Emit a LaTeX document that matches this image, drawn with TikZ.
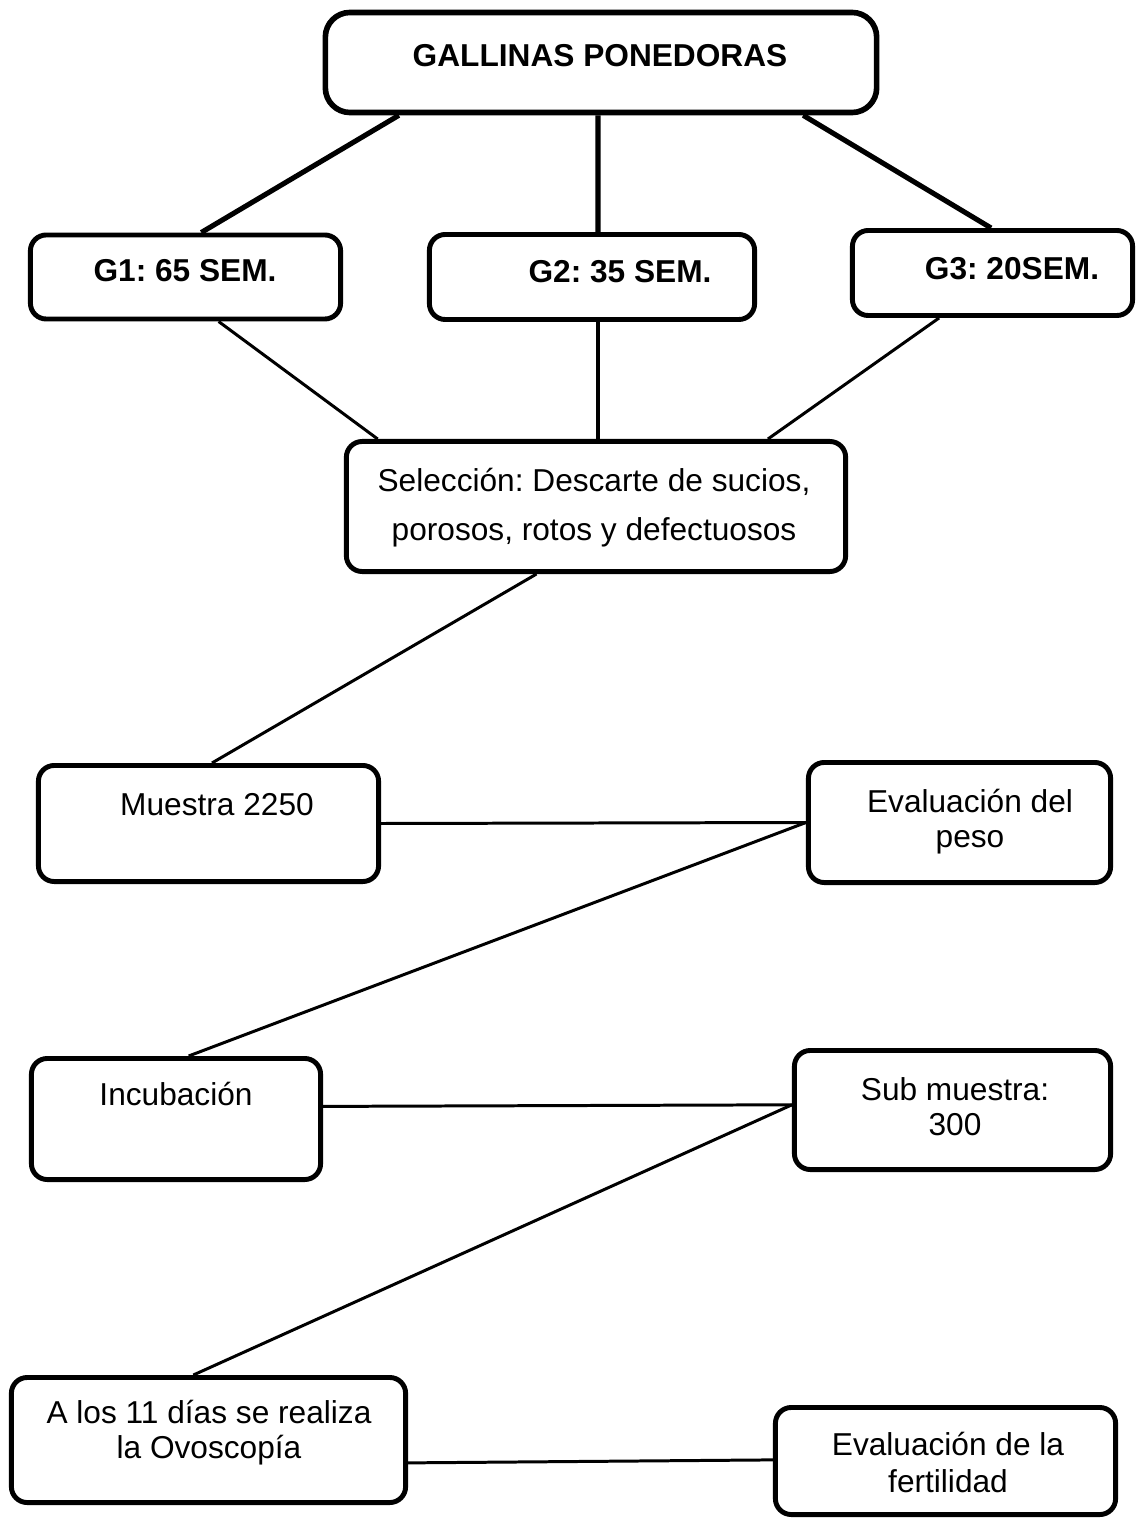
\documentclass[tikz,border=0pt]{standalone}
\usepackage{fontspec}
\setmainfont{Liberation Sans}
\frenchspacing
\usetikzlibrary{calc}
\begin{document}
\begin{tikzpicture}[x=0.01cm,y=-0.01cm,
  box/.style={draw,line width=1.4pt,rounded corners=4.5pt,inner sep=0pt},
  topbox/.style={box,line width=1.6pt,rounded corners=7pt},
  lbl/.style={inner sep=0pt,anchor=base,align=center,font=\fontsize{9}{10}\selectfont},
  blbl/.style={lbl,font=\fontsize{9}{10}\selectfont\bfseries},
  thicklink/.style={line width=1.45pt},
  thinlink/.style={line width=0.85pt}]
\useasboundingbox[fill=white] (0,0) rectangle (1137,1519);

% boxes
\node[topbox,minimum width=5.51cm,minimum height=1.00cm] (T) at (601,62.5) {};
\node[box,minimum width=3.10cm,minimum height=0.84cm] (G1) at (185.5,277) {};
\node[box,minimum width=3.25cm,minimum height=0.85cm] (G2) at (592,277) {};
\node[box,minimum width=2.80cm,minimum height=0.85cm] (G3) at (992.5,273) {};
\node[box,minimum width=4.99cm,minimum height=1.30cm] (S) at (596,506.5) {};
\node[box,minimum width=3.40cm,minimum height=1.16cm] (M) at (208.5,823.5) {};
\node[box,minimum width=3.02cm,minimum height=1.20cm] (P) at (959.5,822.5) {};
\node[box,minimum width=2.89cm,minimum height=1.21cm] (I) at (176,1119) {};
\node[box,minimum width=3.16cm,minimum height=1.19cm] (U) at (952.5,1110) {};
\node[box,minimum width=3.94cm,minimum height=1.25cm] (O) at (208.5,1440) {};
\node[box,minimum width=3.40cm,minimum height=1.07cm] (F) at (945.5,1461) {};

% texts (base anchor = baseline of the last line)
\node[blbl] (tT) at (600,67) {GALLINAS PONEDORAS};
\node[blbl] (tG1) at (185,282) {G1: 65 SEM.};
\node[blbl] (tG2) at (620,283) {G2: 35 SEM.};
\node[blbl] (tG3) at (1012,280) {G3: 20SEM.};
\node[lbl,font=\fontsize{9}{14}\selectfont] (tS) at (594,541) {Selección: Descarte de sucios,\\porosos, rotos y defectuosos};
\node[lbl] (tM) at (217,815) {Muestra 2250};
\node[lbl,font=\fontsize{9}{9.7}\selectfont] (tP) at (970,847) {Evaluación del\\peso};
\node[lbl] (tI) at (176,1105) {Incubación};
\node[lbl,font=\fontsize{9}{9.9}\selectfont] (tU) at (955,1135) {Sub muestra:\\300};
\node[lbl,font=\fontsize{9}{9.9}\selectfont] (tO) at (209,1458) {A los 11 días se realiza\\la Ovoscopía};
\node[lbl,font=\fontsize{9}{10.5}\selectfont] (tF) at (948,1492) {Evaluación de la\\fertilidad};

% connectors
\draw[thicklink] ($(T.south west)!0.137!(T.south east)$) -- ($(G1.north west)!0.55!(G1.north east)$);
\draw[thicklink] ($(T.south west)!0.4946!(T.south east)$) -- ($(G2.north west)!0.518!(G2.north east)$);
\draw[thicklink] ($(T.south west)!0.863!(T.south east)$) -- ($(G3.north west)!0.495!(G3.north east)$);

\draw[thinlink] ($(G1.south west)!0.605!(G1.south east)$) -- ($(S.north west)!0.067!(S.north east)$);
\draw[line width=1.1pt] ($(G2.south west)!0.518!(G2.south east)$) -- ($(S.north west)!0.504!(S.north east)$);
\draw[thinlink] ($(G3.south west)!0.3125!(G3.south east)$) -- ($(S.north west)!0.841!(S.north east)$);

\draw[thinlink] ($(S.south west)!0.382!(S.south east)$) -- ($(M.north west)!0.51!(M.north east)$);
\draw[thinlink] (M.east) -- (P.west);
\draw[thinlink] (P.west) -- ($(I.north west)!0.543!(I.north east)$);
\draw[thinlink] ($(I.north east)!0.4!(I.south east)$) -- ($(U.north west)!0.458!(U.south west)$);
\draw[thinlink] ($(U.north west)!0.458!(U.south west)$) -- ($(O.north west)!0.462!(O.north east)$);
\draw[thinlink] ($(O.north east)!0.676!(O.south east)$) -- ($(F.north west)!0.49!(F.south west)$);
\end{tikzpicture}
\end{document}
